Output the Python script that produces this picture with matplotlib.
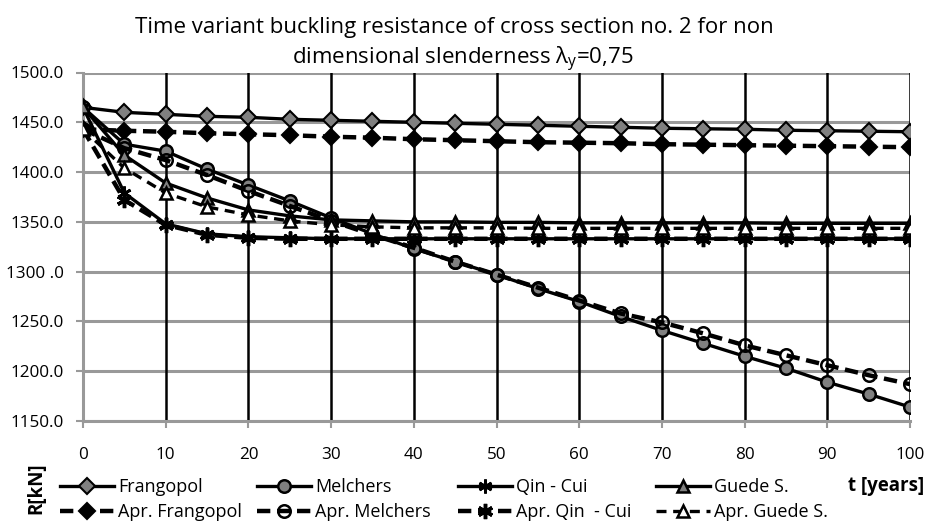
import matplotlib
matplotlib.use("Agg")
import matplotlib.pyplot as plt
import numpy as np

plt.rcParams['font.family'] = ['Open Sans', 'DejaVu Sans']
plt.rcParams['mathtext.fontset'] = 'custom'
plt.rcParams['mathtext.rm'] = 'Open Sans'
plt.rcParams['mathtext.it'] = 'Open Sans:italic'

t = [0, 5, 10, 15, 20, 25, 30, 35, 40, 45, 50, 55, 60, 65, 70, 75, 80, 85, 90, 95, 100]

frangopol = [1465, 1460, 1458, 1456, 1455, 1453, 1452, 1451, 1450, 1449, 1448, 1447, 1446, 1445, 1444, 1443.5, 1443, 1442, 1441.5, 1441, 1440.5]
apr_frangopol = [1443, 1441.5, 1440.5, 1439, 1438, 1437, 1435.5, 1434.5, 1433, 1432, 1431, 1430, 1429.5, 1429, 1428, 1427.5, 1427, 1426.5, 1426, 1425.5, 1425]
melchers = [1465, 1428, 1421, 1403, 1387, 1371, 1354, 1338, 1323, 1310, 1297, 1283, 1270, 1255, 1241, 1228, 1215, 1203, 1189, 1177, 1164]
apr_melchers = [1443, 1424, 1412, 1397, 1381, 1366, 1351, 1337, 1324, 1310, 1297, 1284, 1271, 1258, 1249, 1238, 1226, 1216, 1206, 1196, 1187]
qin_cui = [1465, 1379, 1348, 1338, 1335, 1334, 1333, 1333, 1333, 1333, 1333, 1333, 1333, 1333, 1333, 1333, 1333, 1333, 1333, 1333, 1333]
apr_qin_cui = [1443, 1372, 1347, 1337, 1334, 1333, 1333, 1333, 1333, 1333, 1333, 1333, 1333, 1333, 1333, 1333, 1333, 1333, 1333, 1333, 1333]
guede = [1465, 1417, 1389, 1374, 1362, 1356, 1352, 1351, 1350, 1350, 1349.5, 1349.5, 1349, 1349, 1349, 1349, 1349, 1348.5, 1348.5, 1348.5, 1348.5]
apr_guede = [1443, 1404, 1379, 1365, 1357, 1351, 1347, 1345, 1344, 1344, 1344, 1343.5, 1343.5, 1343.5, 1343.5, 1343.5, 1343.5, 1343.5, 1343.5, 1343.5, 1343.5]

y_ticks = [1150, 1200, 1250, 1300, 1350, 1400, 1450, 1500]
y_tick_labels = ["1150.0", "1200.0", "1250.0", "1300 .0", "1350.0", "1400.0", "1450.0", "1500.0"]
x_ticks = [0, 10, 20, 30, 40, 50, 60, 70, 80, 90, 100]

W, H = 928, 523
fig = plt.figure(figsize=(W/100, H/100), dpi=100)
ax = fig.add_axes([83/W, 1-421/H, (910-83)/W, (421-72.5)/H])

mgray = '#808080'
grid_gray = '#999999'

for yv in y_ticks:
    ax.axhline(yv, color=grid_gray, lw=2.2, zorder=0)
for xv in x_ticks[1:]:
    ax.axvline(xv, color='black', lw=1.8, zorder=0.5)

dash = (0, (3, 1.5))
series = [
    (frangopol, 'Frangopol', dict(ls='-', lw=2.4, marker='D', mfc=mgray, mec='black', mew=1.5, ms=8)),
    (apr_frangopol, 'Apr. Frangopol', dict(ls=dash, lw=3.2, marker='D', mfc='black', mec='black', mew=1.5, ms=8)),
    (melchers, 'Melchers', dict(ls='-', lw=2.4, marker='o', mfc=mgray, mec='black', mew=1.8, ms=9)),
    (apr_melchers, 'Apr. Melchers', dict(ls=dash, lw=3.2, marker='o', mfc='none', mec='black', mew=1.8, ms=9)),
    (qin_cui, 'Qin - Cui', dict(ls='-', lw=2.4, marker=(6, 2, 0), mfc='black', mec='black', mew=2.0, ms=10)),
    (apr_qin_cui, 'Apr. Qin  - Cui', dict(ls=dash, lw=3.2, marker=(6, 2, 0), mfc='black', mec='black', mew=2.5, ms=11)),
    (guede, 'Guede S.', dict(ls='-', lw=2.4, marker='^', mfc=mgray, mec='black', mew=1.8, ms=9)),
    (apr_guede, 'Apr. Guede S.', dict(ls=(0, (3, 2)), lw=2.4, marker='^', mfc='white', mec='black', mew=1.8, ms=9)),
]
handles = {}
for data, label, kw in series:
    h, = ax.plot(t, data, color='black', label=label, zorder=3, **kw)
    handles[label] = h

ax.set_xlim(0, 100)
ax.set_ylim(1150, 1500)
ax.set_yticks(y_ticks)
ax.set_yticklabels(y_tick_labels)
ax.set_xticks(x_ticks)
ax.tick_params(axis='both', colors=grid_gray, length=5, width=1.5, labelcolor='black', labelsize=12.3)
ax.tick_params(axis='x', pad=14)
ax.tick_params(axis='y', pad=9)
for s in ['top', 'right']:
    ax.spines[s].set_visible(False)
for s in ['left', 'bottom']:
    ax.spines[s].set_color(grid_gray)
    ax.spines[s].set_linewidth(2.2)

fig.text(454/W, 1-27/H, "Time variant buckling resistance of cross section no. 2 for non",
         fontsize=16, ha='center', va='center')
fig.text(463/W, 1-59/H, r"dimensional slenderness $\mathrm{λ}_{\mathrm{y}}$=0,75",
         fontsize=16, ha='center', va='center')

columns = [('Frangopol', 'Apr. Frangopol', 60),
           ('Melchers', 'Apr. Melchers', 257),
           ('Qin - Cui', 'Apr. Qin  - Cui', 458),
           ('Guede S.', 'Apr. Guede S.', 656)]
for a, b, x0 in columns:
    fig.legend([handles[a], handles[b]], [a, b], loc='upper left',
               bbox_to_anchor=(x0/W, 1-478/H), frameon=False, fontsize=13,
               handlelength=3.0, handletextpad=0.2, labelspacing=0.38,
               borderaxespad=0, borderpad=0)

fig.text(36/W, 1-488/H, "R[kN]", rotation=90, fontsize=13.5, fontweight='bold',
         ha='center', va='center')
fig.text(886/W, 1-486/H, "t [years]", fontsize=13.5, fontweight='bold',
         ha='center', va='center')

fig.savefig("out.png", dpi=100)
